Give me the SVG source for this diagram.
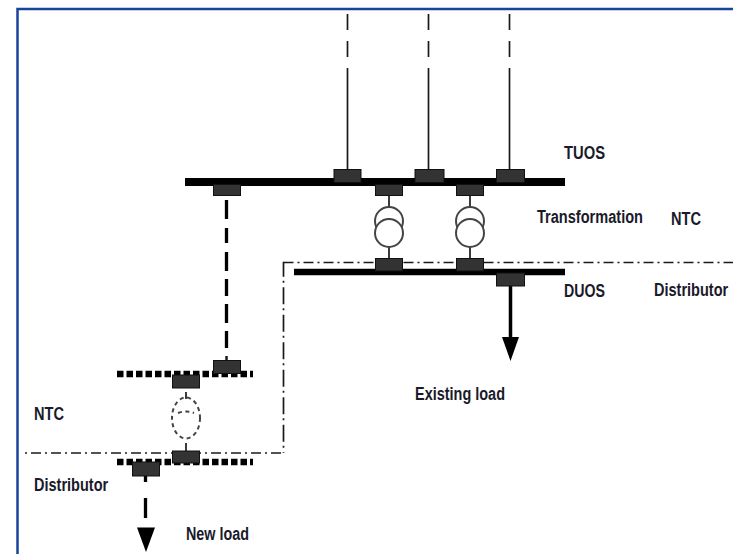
<svg xmlns="http://www.w3.org/2000/svg" width="733" height="554" viewBox="0 0 733 554">
<style>
.box{fill:#333;stroke:#111;stroke-width:1}
.bus{stroke:#000;stroke-width:8;fill:none}
.dot{stroke:#000;stroke-width:6.500;stroke-dasharray:6.500 3;fill:none}
.thin{stroke:#1a1a1a;stroke-width:1.700;fill:none}
.dd{stroke-dasharray:16 11 16 11 200}
.bd{stroke:#000;stroke-width:3.500;fill:none}
.dash{stroke:#000;stroke-width:3.300;fill:none}
.coil{stroke:#444;stroke-width:2;fill:#fff}
.ghost{stroke:#444;stroke-width:2;stroke-dasharray:4 3.500;fill:none}
.bound{stroke:#1a1a1a;stroke-width:1.700;stroke-dasharray:10 4 2 4;fill:none}
.t{font-family:"Liberation Sans",Arial,sans-serif;font-size:17.500px;fill:#1a1a2a;font-weight:bold}
</style>
<rect width="733" height="554" fill="#fff"/>
<path d="M17.500 554V9H733" fill="none" stroke="#17449c" stroke-width="2.500"/>
<g id="connectors">
<path class="thin dd" d="M347.500 14V169"/><path class="thin dd" d="M428.500 14V169"/><path class="thin dd" d="M509.500 14V169"/>
<path class="thin" d="M389 196V208M389 246V258M470 196V208M470 246V258"/>
<path class="dash" d="M226.500 200V219M226.500 228V243M226.500 252V271M226.500 279V296M226.500 304V323M226.500 331V348"/>
<path class="thin" style="stroke-width:2.500" d="M226.500 356V361"/>
<path class="bd" d="M510.500 286V338"/>
<path class="thin" d="M186 392V399M186 443V451"/>
<path class="dash" d="M145.500 476V482M145.500 498V518"/>
<path class="bound" d="M283.500 262.500H733"/>
<path class="bound" style="stroke-dashoffset:14" d="M25 453H283.500"/>
<path class="bound" style="stroke-dasharray:17 4 2 4.500;stroke-dashoffset:2" d="M283.500 261.700V453"/>
</g>
<g id="bus-tuos"><path class="bus" d="M185 182H565"/></g>
<g id="bus-duos"><path class="bus" style="stroke-width:6.500" d="M294 272H565"/></g>
<g id="bus-ntc"><path class="dot" d="M117 374H253"/></g>
<g id="bus-dist"><path class="dot" d="M117 462H253"/></g>
<g id="breakers">
<rect class="box" x="334" y="169.500" width="27" height="13"/>
<rect class="box" x="415" y="169.500" width="29" height="13"/>
<rect class="box" x="496.500" y="169.500" width="28" height="13"/>
<rect class="box" x="213.500" y="184.500" width="27" height="11"/>
<rect class="box" x="375.500" y="184.500" width="27" height="11"/>
<rect class="box" x="456.500" y="184.500" width="27" height="11"/>
<rect class="box" x="375.500" y="258.500" width="27" height="12.500"/>
<rect class="box" x="456.500" y="258.500" width="27" height="12.500"/>
<rect class="box" x="496.500" y="273" width="28" height="13"/>
<rect class="box" x="213.500" y="360.500" width="27" height="13"/>
<rect class="box" x="172.500" y="375" width="27" height="13"/>
<rect class="box" x="172.500" y="451" width="27" height="12"/>
<rect class="box" x="132.500" y="462" width="27" height="14"/>
</g>
<g id="transformer-1"><circle class="coil" cx="389" cy="221" r="14"/><circle class="coil" cx="389" cy="233" r="14"/></g>
<g id="transformer-2"><circle class="coil" cx="470" cy="221" r="14"/><circle class="coil" cx="470" cy="233" r="14"/></g>
<g id="transformer-new"><ellipse class="ghost" cx="186" cy="418" rx="14" ry="20.500"/><path class="ghost" d="M178 413Q186 410 194 413"/></g>
<g id="arrow-existing"><path d="M502 337H519L510.500 361Z" fill="#000"/></g>
<g id="arrow-new"><path d="M137 527.500H155L146 552Z" fill="#000"/></g>
<g id="labels">
<text class="t" x="564" y="158.500" textLength="41" lengthAdjust="spacingAndGlyphs">TUOS</text>
<text class="t" x="537" y="223" textLength="106" lengthAdjust="spacingAndGlyphs">Transformation</text>
<text class="t" x="671" y="225" textLength="30" lengthAdjust="spacingAndGlyphs">NTC</text>
<text class="t" x="564" y="297" textLength="41" lengthAdjust="spacingAndGlyphs">DUOS</text>
<text class="t" transform="translate(654 295.500) scale(.83 1)">Distributor</text>
<text class="t" x="415" y="400" textLength="90" lengthAdjust="spacingAndGlyphs">Existing load</text>
<text class="t" x="34" y="420" textLength="30" lengthAdjust="spacingAndGlyphs">NTC</text>
<text class="t" transform="translate(34 490.500) scale(.83 1)">Distributor</text>
<text class="t" x="186" y="540" textLength="63" lengthAdjust="spacingAndGlyphs">New load</text>
</g>
</svg>
